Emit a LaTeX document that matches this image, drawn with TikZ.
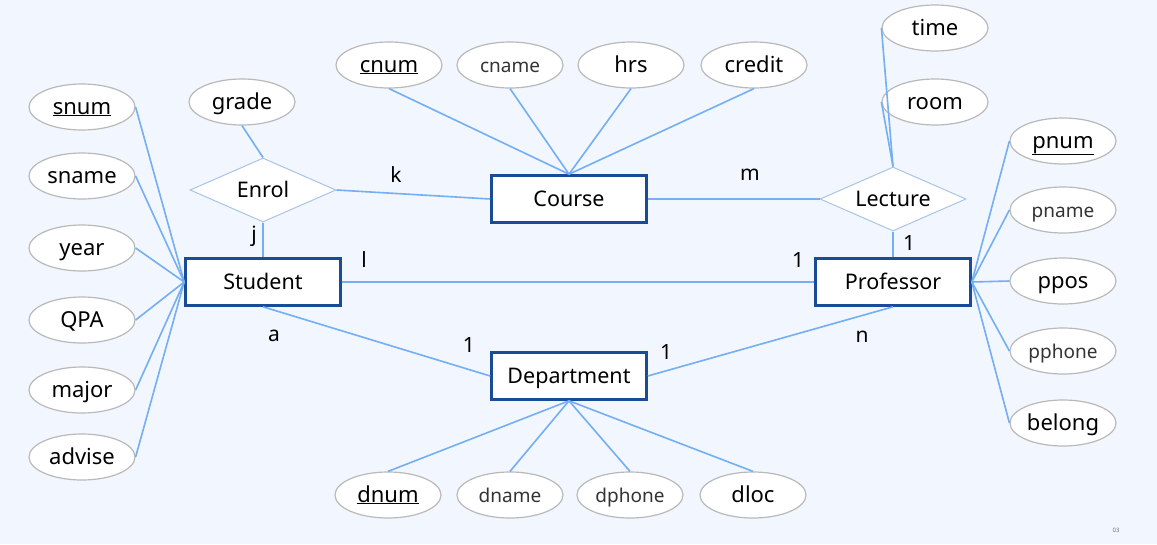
\documentclass[tikz,border=0pt]{standalone}
\usepackage{fontspec}
\setmainfont{Noto Sans}
\usetikzlibrary{shapes.geometric}
\definecolor{bg}{RGB}{242,246,254}
\definecolor{conn}{RGB}{115,175,242}
\definecolor{boxb}{RGB}{25,75,150}
\definecolor{diab}{RGB}{170,196,232}
\definecolor{ellb}{RGB}{185,185,185}
\tikzset{
  ent/.style={draw=boxb, line width=2.6pt, fill=white, minimum width=155pt, minimum height=47pt, inner sep=0pt, text height=17pt, text depth=3pt, font=\fontsize{21.5}{24}\selectfont},
  rel/.style={diamond, draw=diab, line width=1pt, fill=white, aspect=2.28, minimum width=146pt, minimum height=64pt, inner sep=0pt, text height=17pt, text depth=3pt, font=\fontsize{21.5}{24}\selectfont},
  attr/.style={ellipse, draw=ellb, line width=1.2pt, fill=white, minimum width=106pt, minimum height=46pt, inner sep=0pt, text height=17pt, text depth=3pt, font=\fontsize{22}{24}\selectfont},
  sattr/.style={attr, font=\fontsize{19}{22}\selectfont, text=black!80},
  conn/.style={draw=conn, line width=1.6pt},
  card/.style={font=\fontsize{21}{24}\selectfont, inner sep=0pt}
}
\begin{document}
\begin{tikzpicture}[x=1pt,y=-1pt]
\fill[bg] (0,0) rectangle (1157,544);
\useasboundingbox (0,0) rectangle (1157,544);
% entities
\node[ent] (student) at (263,282) {Student};
\node[ent] (course) at (569,199) {Course};
\node[ent] (prof) at (893,282) {Professor};
\node[ent] (dept) at (569,376) {Department};
% relationships
\node[rel] (enrol) at (263,190) {Enrol};
\node[rel] (lecture) at (893,199) {Lecture};
% student attributes
\node[attr] (snum) at (82,107) {\underline{snum}};
\node[attr] (sname) at (82,176) {sname};
\node[attr] (year) at (82,248) {year};
\node[attr] (qpa) at (82,320) {QPA};
\node[attr] (major) at (82,390) {major};
\node[attr] (advise) at (82,457) {advise};
\node[attr] (grade) at (242,102) {grade};
% course attributes
\node[attr] (cnum) at (389,65) {\underline{cnum}};
\node[sattr] (cname) at (510,65) {cname};
\node[attr] (hrs) at (631,65) {hrs};
\node[attr] (credit) at (754,65) {credit};
% lecture attributes
\node[attr] (time) at (935,28) {time};
\node[attr] (room) at (935,102) {room};
% professor attributes
\node[attr] (pnum) at (1063,141) {\underline{pnum}};
\node[sattr] (pname) at (1063,210) {pname};
\node[attr] (ppos) at (1063,281) {ppos};
\node[sattr] (pphone) at (1063,351) {pphone};
\node[attr] (belong) at (1063,423) {belong};
% department attributes
\node[attr] (dnum) at (388,495) {\underline{dnum}};
\node[sattr] (dname) at (510,495) {dname};
\node[sattr] (dphone) at (630,495) {dphone};
\node[attr] (dloc) at (753,495) {dloc};
% connectors
\foreach \a in {snum,sname,year,qpa,major,advise}
  \draw[conn] (\a.east) -- (student.west);
\foreach \a in {pnum,pname,ppos,pphone,belong}
  \draw[conn] (\a.west) -- (prof.east);
\foreach \a in {cnum,cname,hrs,credit}
  \draw[conn] (\a.south) -- (course.north);
\foreach \a in {dnum,dname,dphone,dloc}
  \draw[conn] (\a.north) -- (dept.south);
\draw[conn] (time.west) -- (lecture.north);
\draw[conn] (room.west) -- (lecture.north);
\draw[conn] (grade.south) -- (enrol.north);
\draw[conn] (enrol.south) -- (student.north);
\draw[conn] (enrol.east) -- (course.west);
\draw[conn] (course.east) -- (lecture.west);
\draw[conn] (lecture.south) -- (prof.north);
\draw[conn] (student.east) -- (prof.west);
\draw[conn] (student.south) -- (dept.west);
\draw[conn] (prof.south) -- (dept.east);
% cardinalities
\node[card] (cj) at (254,236) {j};
\node[card] (ck) at (396,175) {k};
\node[card] (cm) at (750,175) {m};
\node[card] (c1a) at (909,243) {1};
\node[card] (cl) at (364,260) {l};
\node[card] (c1b) at (798,260) {1};
\node[card] (ca) at (274,336) {a};
\node[card] (c1c) at (469,345) {1};
\node[card] (c1d) at (666,352) {1};
\node[card] (cn) at (862,337) {n};
\node[font=\fontsize{6}{7}\selectfont\bfseries, text=black!55] (pg) at (1116,530) {03};
\end{tikzpicture}
\end{document}
